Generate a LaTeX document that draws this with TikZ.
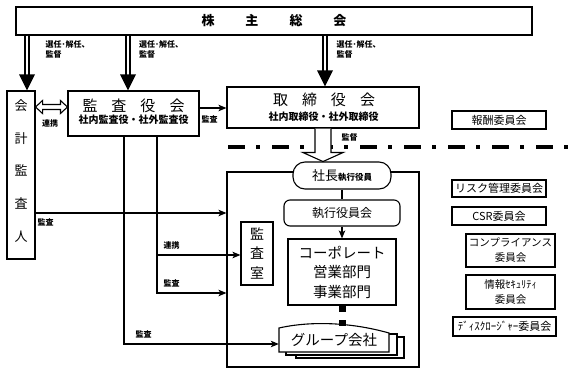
\documentclass[tikz,border=0pt]{standalone}
\usepackage{fontspec}
\setmainfont{Noto Sans CJK JP}
\usetikzlibrary{arrows.meta,calc}
\begin{document}
\begin{tikzpicture}[x=1pt,y=-1pt,
  box/.style={draw,line width=1.1pt,fill=white,inner sep=0pt,align=center},
  arr/.style={line width=1.1pt,-{Stealth[length=8pt,width=6.5pt,inset=2pt]}},
  ln/.style={line width=1.1pt},
  lbl/.style={font=\fontsize{8}{10}\selectfont\bfseries,inner sep=0pt,align=left},
  dblline/.style={double,double distance=2.6pt,line width=1.4pt},
  hollow/.style={draw,line width=1.1pt,fill=white,line join=miter},
  com/.style={box,font=\fontsize{11}{14}\selectfont},
  txt/.style={inner sep=0pt,align=center}
]
\useasboundingbox (0,0) rectangle (580,374);

% separator
\draw[line width=3.5pt,dash pattern=on 17pt off 11pt on 4pt off 12pt] (228,147) -- (568,147);

% main boxes
\node[box,minimum width=516pt,minimum height=28pt,font=\fontsize{13}{13}\selectfont\bfseries] (top) at (274,21) {株\hspace{31pt}主\hspace{31pt}総\hspace{31pt}会};

\node[box,minimum width=28pt,minimum height=168pt] (acc) at (21,175) {};
\node[txt,font=\fontsize{13}{32.7}\selectfont] (acct) at (21,171) {会\\計\\監\\査\\人};

\node[box,minimum width=131pt,minimum height=45pt] (kansa) at (133.5,113.5) {};
\node[txt,font=\fontsize{15}{15}\selectfont] (kansat) at (133.5,106) {監\hspace{14pt}査\hspace{14pt}役\hspace{14pt}会};
\node[txt,font=\fontsize{10}{10}\selectfont\bfseries] (kansas) at (133.5,119.5) {社内監査役・社外監査役};

\node[box,minimum width=192pt,minimum height=41pt] (tori) at (323,107.5) {};
\node[txt,font=\fontsize{15}{15}\selectfont] (torit) at (324,99.5) {取\hspace{14pt}締\hspace{14pt}役\hspace{14pt}会};
\node[txt,font=\fontsize{10}{10}\selectfont\bfseries] (toris) at (323.5,117) {社内取締役・社外取締役};

\node[draw,line width=1.1pt,minimum width=192pt,minimum height=195pt,inner sep=0pt] (frame) at (323,269.5) {};

\node[box,rounded corners=12pt,minimum width=98pt,minimum height=27pt] (pres) at (342,175.5) {{\fontsize{13}{13}\selectfont 社長}{\fontsize{8.5}{8.5}\selectfont\bfseries 執行役員}};
\node[box,rounded corners=6pt,minimum width=116pt,minimum height=26pt,font=\fontsize{12}{12}\selectfont] (exec) at (342,213) {執行役員会};
\node[box,minimum width=108pt,minimum height=66pt,font=\fontsize{14.5}{19.5}\selectfont] (corp) at (342,272) {コーポレート\\営業部門\\事業部門};
\node[box,minimum width=32pt,minimum height=63pt,font=\fontsize{14}{19.5}\selectfont] (room) at (257,253.5) {監\\査\\室};

% group companies (stacked documents)
\draw[ln,fill=white] (296,337) rectangle (404,358);
\draw[ln,fill=white] (286,334) rectangle (397,355);
\draw[ln,fill=white,line join=miter] (279,328) .. controls (310,321) and (350,322) .. (389,333) -- (389,352) -- (279,352) -- cycle;
\node[txt,minimum width=110pt,minimum height=26pt,font=\fontsize{14.5}{14.5}\selectfont] (group) at (334,340) {グループ会社};

% committees
\node[com,minimum width=94pt,minimum height=18pt] (hoshu) at (499,120) {報酬委員会};
\node[com,minimum width=94pt,minimum height=17pt] (risk) at (499,188.5) {リスク管理委員会};
\node[com,minimum width=94pt,minimum height=18pt] (csr) at (499,216) {CSR委員会};
\node[com,minimum width=89pt,minimum height=33pt,font=\fontsize{10.5}{15}\selectfont] (comp) at (510.5,250.5) {コンプライアンス\\委員会};
\node[com,minimum width=89pt,minimum height=34pt,font=\fontsize{10.5}{15}\selectfont] (info) at (510.5,292) {情報ｾｷｭﾘﾃｨ\\委員会};
\node[com,minimum width=103pt,minimum height=19pt] (disc) at (504.5,326.5) {ﾃﾞｨｽｸﾛｰｼﾞｬｰ委員会};

% double arrows from shareholders meeting
\coordinate (t1) at ([xshift=6pt]acc.north);
\coordinate (t2) at ([xshift=-5.5pt]kansa.north);
\coordinate (t3) at ([xshift=2pt]tori.north);
\foreach \t in {t1,t2,t3}{
  \draw[dblline] (\t |- top.south) -- ([yshift=14pt]\t);
  \fill ([xshift=-8pt,yshift=16pt]\t) -- ([xshift=8pt,yshift=16pt]\t) -- (\t) -- cycle;
}
\node[lbl,anchor=north west] (l1) at (45.5,40.5) {選任･解任、\\監督};
\node[lbl,anchor=north west] (l2) at (139,40.5) {選任･解任、\\監督};
\node[lbl,anchor=north west] (l3) at (336.5,40.5) {選任･解任、\\監督};

% hollow double arrow acc <-> kansa
\coordinate (h1) at ([yshift=68pt]acc.east);
\coordinate (h2) at (h1 -| kansa.west);
\draw[hollow] (h1) -- ++(7,-6.5) -- ++(0,4) -- ($(h2)+(-7,-2.5)$) -- ++(0,-4) -- (h2) -- ++(-7,6.5) -- ++(0,-4) -- ($(h1)+(7,2.5)$) -- ++(0,4) -- cycle;
\node[lbl] (l4) at (50,123) {連携};

% kansa -> tori
\coordinate (k1) at ([yshift=5.5pt]kansa.east);
\draw[arr] (k1) -- (k1 -| tori.west);
\node[lbl] (l5) at (209.5,119) {監査};

% tori -> pres hollow arrow
\coordinate (b0) at (tori.south);
\draw[hollow] ($(b0)+(-8,0)$) -- ++(0,24) -- ++(-12,0) -- ($(b0)+(0,33)$) -- ($(b0)+(20,24)$) -- ++(-12,0) -- ($(b0)+(8,0)$);
\node[lbl] (l6) at (349.5,137) {監督};

% executive chain
\draw[ln] (pres.south) -- (exec.north);
\draw[arr] (exec.south) -- (corp.north);
\fill ($(corp.south)+(-3.5,0)$) rectangle ++(7,6);
\fill ($(corp.south)+(-3.5,14)$) rectangle ++(7,6);

% audits
\coordinate (a2) at ([yshift=-38pt]acc.east);
\draw[arr] (a2) -- (a2 -| frame.west);
\node[lbl] (l7) at (45.5,222) {監査};

\coordinate (v1) at ([xshift=-9.5pt]kansa.south);
\coordinate (v2) at ([xshift=23.5pt]kansa.south);
\coordinate (f3) at ([yshift=-23.5pt]frame.west);
\coordinate (r1) at ([yshift=-1.5pt]room.west);
\coordinate (g1) at ([yshift=-4pt]group.west);
\draw[arr] (v2) |- (f3);
\draw[arr] (v2 |- r1) -- (r1);
\draw[arr] (v1) |- (g1);
\node[lbl] (l8) at (171.5,245) {連携};
\node[lbl] (l9) at (171.5,283) {監査};
\node[lbl] (l10) at (143.5,334) {監査};
\end{tikzpicture}
\end{document}
